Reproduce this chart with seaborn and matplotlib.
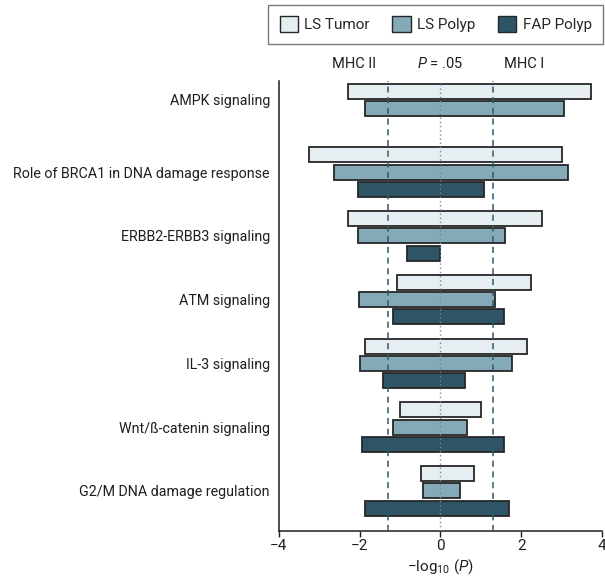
import seaborn as sns
import matplotlib.pyplot as plt
import matplotlib.patches as mpatches
import numpy as np

# pathways, top to bottom
pathways = ['AMPK signaling',
            'Role of BRCA1 in DNA damage response',
            'ERBB2-ERBB3 signaling',
            'ATM signaling',
            'IL-3 signaling',
            'Wnt/ß-catenin signaling',
            'G2/M DNA damage regulation']
groups = ['LS Tumor', 'LS Polyp', 'FAP Polyp']

# left end (MHC II side) and right end (MHC I side) in -log10(P); None = not shown
tumor_lo = [-2.30, -3.25, -2.28, -1.08, -1.86, -0.99, -0.48]
tumor_hi = [3.72, 3.02, 2.52, 2.24, 2.14, 1.00, 0.83]
lspolyp_lo = [-1.88, -2.63, -2.04, -2.01, -2.00, -1.17, -0.44]
lspolyp_hi = [3.05, 3.16, 1.59, 1.34, 1.77, 0.65, 0.48]
fap_lo = [None, -2.04, -0.84, -1.18, -1.43, -1.94, -1.86]
fap_hi = [None, 1.07, 0.00, 1.57, 0.60, 1.57, 1.69]

colors = ['#e6eef1', '#84a9b7', '#2e5565']
edge = '#262626'
line_col = '#2e5a6b'
txt = '#1e1e1e'

sns.set_style('white')
plt.rcParams['font.family'] = ['Roboto', 'DejaVu Sans']
plt.rcParams['mathtext.fontset'] = 'custom'
plt.rcParams['mathtext.rm'] = 'Roboto'
plt.rcParams['mathtext.it'] = 'Roboto:italic'

fig = plt.figure(figsize=(6.05, 5.84), dpi=100)
ax = fig.add_axes([0.461, 0.0915, 0.534, 0.769])

pitch = 3.7
bar_h = 0.87
lows = [tumor_lo, lspolyp_lo, fap_lo]
highs = [tumor_hi, lspolyp_hi, fap_hi]

tick_pos = []
for i, name in enumerate(pathways):
    center = i * pitch
    used = []
    for j in range(3):
        lo = lows[j][i]
        hi = highs[j][i]
        if lo is None:
            continue
        y = center + (j - 1)
        used.append(y)
        ax.barh(y, hi - lo, left=lo, height=bar_h, color=colors[j],
                edgecolor=edge, linewidth=1.3, zorder=2)
    tick_pos.append(np.mean(used))

# reference lines sit on top of the bars
ax.axvline(-1.301, color=line_col, ls=(0, (4, 3)), lw=1.1, zorder=4)
ax.axvline(1.301, color=line_col, ls=(0, (4, 3)), lw=1.1, zorder=4)
ax.axvline(0, color='#6f8c98', ls=(0, (1, 2)), lw=1.0, zorder=4)

ax.set_xlim(-4, 4)
ax.set_ylim(6 * pitch + 2.3, -1.56)
ax.set_xticks([-4, -2, 0, 2, 4])
ax.set_xticklabels(['\u22124', '\u22122', '0', '2', '4'])
ax.set_yticks(tick_pos)
ax.set_yticklabels(pathways)
ax.tick_params(axis='y', length=0, pad=6.5, labelsize=10.25, colors=txt)
ax.tick_params(axis='x', length=4, width=1, pad=2, labelsize=11,
               colors=txt, bottom=True, direction='out')
for s in ['top', 'right']:
    ax.spines[s].set_visible(False)
for s in ['left', 'bottom']:
    ax.spines[s].set_color(txt)
    ax.spines[s].set_linewidth(1.1)
ax.set_xlabel('\u2212log$_{10}$ ($\\mathit{P}$)', fontsize=11, color=txt, labelpad=3)

# header labels above the plot
trans = ax.get_xaxis_transform()
ax.text(-2.15, 1.04, 'MHC II', transform=trans, ha='center', va='center',
        fontsize=10.5, color=txt)
ax.text(0, 1.04, '$\\mathit{P}$ = .05', transform=trans, ha='center', va='center',
        fontsize=10.5, color=txt)
ax.text(2.07, 1.04, 'MHC I', transform=trans, ha='center', va='center',
        fontsize=10.5, color=txt)

handles = [mpatches.Patch(facecolor=c, edgecolor=edge, linewidth=1.0, label=g)
           for c, g in zip(colors, groups)]
leg = fig.legend(handles=handles, loc='upper right', bbox_to_anchor=(0.997, 0.992),
                 borderaxespad=0, ncol=3, fontsize=11, frameon=True, fancybox=False,
                 handlelength=1.2, handleheight=1.2, handletextpad=0.4,
                 columnspacing=1.5, borderpad=0.75)
leg.get_frame().set_edgecolor('#555555')
leg.get_frame().set_linewidth(1.0)

fig.savefig('out.png', dpi=100)
